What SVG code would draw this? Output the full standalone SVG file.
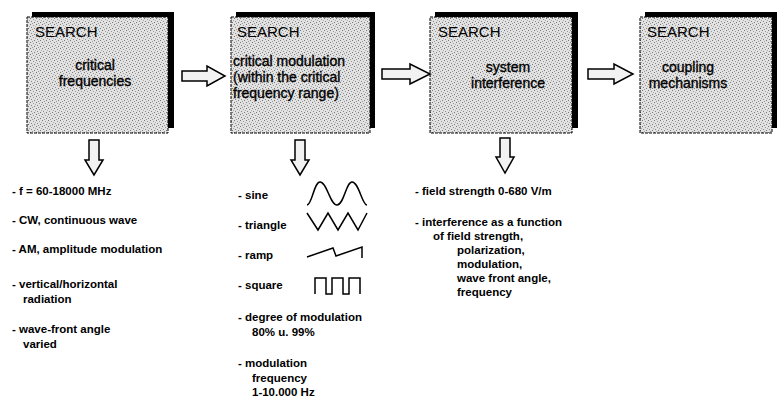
<svg xmlns="http://www.w3.org/2000/svg" width="780" height="399" viewBox="0 0 780 399">
<defs>
<pattern id="stip" width="6" height="6" patternUnits="userSpaceOnUse">
<rect width="6" height="6" fill="#e2e2e2"/>
<rect x="0" y="0" width="1" height="1" fill="#777"/>
<rect x="3" y="1" width="1" height="1" fill="#999"/>
<rect x="1" y="3" width="1" height="1" fill="#888"/>
<rect x="4" y="4" width="1" height="1" fill="#777"/>
<rect x="5" y="2" width="1" height="1" fill="#aaa"/>
<rect x="2" y="5" width="1" height="1" fill="#999"/>
</pattern>
<style>
.shadow{fill:#000}
.box{fill:url(#stip);stroke:#000;stroke-width:1;stroke-dasharray:3 1}
.hd{font-family:"Liberation Sans",Arial,sans-serif;font-size:15px;fill:#000}
.bt{font-family:"Liberation Sans",Arial,sans-serif;font-size:14px;fill:#000;stroke:#000;stroke-width:0.35}
.bm{text-anchor:middle}
.li{font-family:"Liberation Sans",Arial,sans-serif;font-size:11.5px;font-weight:bold;fill:#000}
.arr{fill:#f2f2f2;stroke:#000;stroke-width:1.5;stroke-linejoin:miter}
.wave{fill:none;stroke:#000;stroke-width:1.5}
</style>
</defs>
<rect width="780" height="399" fill="#fff"/>

<g id="box1">
<rect class="shadow" x="32" y="12" width="142" height="116"/>
<rect class="box" x="27" y="17" width="141" height="116"/>
<text class="hd" x="35" y="37">SEARCH</text>
<text class="bt bm" x="95" y="70">critical</text>
<text class="bt bm" x="95" y="86">frequencies</text>
</g>

<g id="box2">
<rect class="shadow" x="236" y="12" width="139" height="116"/>
<rect class="box" x="231" y="17" width="139" height="116"/>
<text class="hd" x="237" y="37">SEARCH</text>
<text class="bt" x="233" y="66">critical modulation</text>
<text class="bt" x="233" y="82">(within the critical</text>
<text class="bt" x="233" y="98">frequency range)</text>
</g>

<g id="box3">
<rect class="shadow" x="435" y="12" width="143" height="116"/>
<rect class="box" x="430" y="17" width="142" height="116"/>
<text class="hd" x="438" y="37">SEARCH</text>
<text class="bt bm" x="508" y="72">system</text>
<text class="bt bm" x="508" y="88">interference</text>
</g>

<g id="box4">
<rect class="shadow" x="645" y="12" width="132" height="116"/>
<rect class="box" x="640" y="17" width="132" height="116"/>
<text class="hd" x="647" y="37">SEARCH</text>
<text class="bt bm" x="688" y="72">coupling</text>
<text class="bt bm" x="688" y="88">mechanisms</text>
</g>

<g id="connectors">
<path class="arr" d="M182,71 H207 V66 L225,76 L207,86 V81 H182 Z"/>
<path class="arr" d="M382,69 H410 V64 L430,74 L410,84 V79 H382 Z"/>
<path class="arr" d="M588,69 H614 V64 L633,74 L614,84 V79 H588 Z"/>
<path class="arr" d="M89,140 V160 H85 L94,175 L103,160 H99 V140 Z"/>
<path class="arr" d="M295,140 V160 H291 L300,175 L309,160 H305 V140 Z"/>
<path class="arr" d="M500,138 V157 H496 L505,173 L514,157 H510 V138 Z"/>
</g>

<g id="list1">
<text class="li" x="12" y="195">- f = 60-18000 MHz</text>
<text class="li" x="12" y="224">- CW, continuous wave</text>
<text class="li" x="12" y="253">- AM, amplitude modulation</text>
<text class="li" x="12" y="288">- vertical/horizontal</text>
<text class="li" x="23" y="303">radiation</text>
<text class="li" x="12" y="333">- wave-front angle</text>
<text class="li" x="23" y="348">varied</text>
</g>

<g id="list2">
<text class="li" x="238" y="199">- sine</text>
<text class="li" x="238" y="229">- triangle</text>
<text class="li" x="238" y="259">- ramp</text>
<text class="li" x="238" y="289">- square</text>
<text class="li" x="238" y="321">- degree of modulation</text>
<text class="li" x="252" y="336">80% u. 99%</text>
<text class="li" x="238" y="367">- modulation</text>
<text class="li" x="252" y="382">frequency</text>
<text class="li" x="252" y="396">1-10.000 Hz</text>
<path class="wave" d="M307,205 C312,205 314,182 320,182 C327,182 330,205 337,205 C344,205 346,182 352,182 C359,182 362,205 367,205"/>
<path class="wave" d="M307,213 L318,230 L328,213 L338,230 L348,213 L358,230 L367,213"/>
<path class="wave" d="M307,257 L333,248 L336,256 L362,247 L362,258"/>
<path class="wave" d="M315,294 V278 H326 V294 H332 V278 H343 V294 H349 V278 H360 V294"/>
</g>

<g id="list3">
<text class="li" x="415" y="195">- field strength 0-680 V/m</text>
<text class="li" x="415" y="226">- interference as a function</text>
<text class="li" x="433" y="240">of field strength,</text>
<text class="li" x="457" y="254">polarization,</text>
<text class="li" x="457" y="268">modulation,</text>
<text class="li" x="457" y="282">wave front angle,</text>
<text class="li" x="457" y="296">frequency</text>
</g>
</svg>
